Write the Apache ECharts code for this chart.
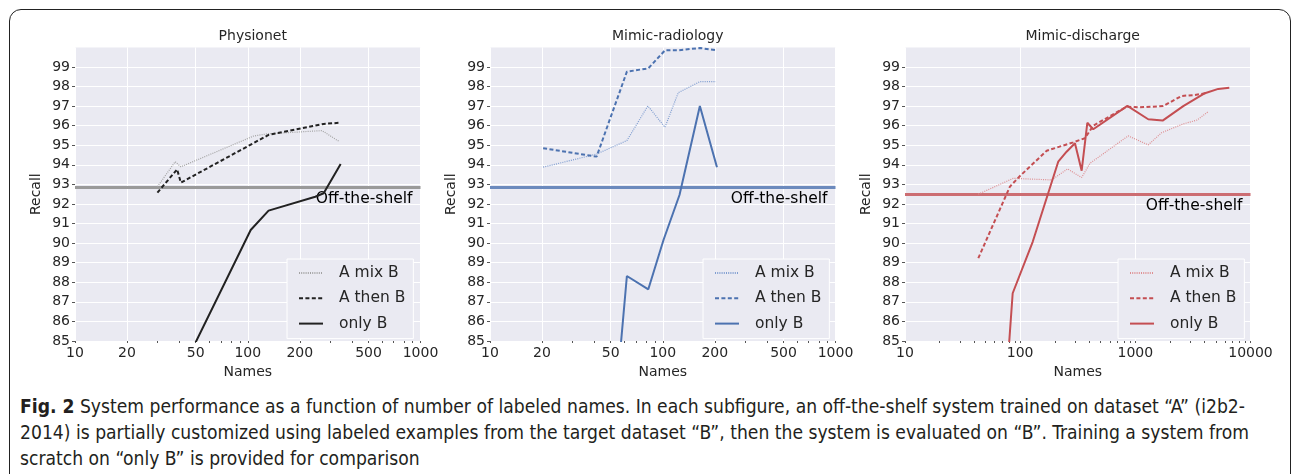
<!DOCTYPE html>
<html>
<head>
<meta charset="utf-8">
<script src="https://cdn.jsdelivr.net/npm/echarts@6/dist/echarts.min.js"></script>
<style>
  html, body { margin: 0; padding: 0; background: #fff; }
  body { width: 1292px; height: 474px; position: relative; overflow: hidden; }
  #frame {
    position: absolute; left: 9px; top: 9px; width: 1282px; height: 520px;
    border: 1.5px solid #222; border-radius: 12px; box-sizing: border-box;
  }
  #chart { position: absolute; left: 0; top: 0; width: 1292px; height: 390px; }
  #caption {
    position: absolute; left: 20px; top: 393px;
    font-family: "Liberation Sans Narrow", "DejaVu Sans", sans-serif; font-stretch: condensed;
    font-size: 19px; line-height: 26px; color: #231f20;
  }
  .cap-line { display: inline-block; white-space: nowrap; transform-origin: 0 50%; }
</style>
</head>
<body>
<div id="frame"></div>
<div id="chart"></div>
<div id="caption">
  <span class="cap-line"><b>Fig. 2</b> System performance as a function of number of labeled names. In each subfigure, an off-the-shelf system trained on dataset “A” (i2b2-</span><br>
  <span class="cap-line">2014) is partially customized using labeled examples from the target dataset “B”, then the system is evaluated on “B”. Training a system from</span><br>
  <span class="cap-line">scratch on “only B” is provided for comparison</span>
</div>
<script>
// ---- data (x = number of labeled names, y = recall) ----
const panelTitles = ["Physionet", "Mimic-radiology", "Mimic-discharge"];
const seriesNames = ["A mix B", "A then B", "only B"];
const xTicksSmall = [10, 20, 50, 100, 200, 500, 1000];
const xTicksLarge = [10, 100, 1000, 10000];
const yTicks = [85, 86, 87, 88, 89, 90, 91, 92, 93, 94, 95, 96, 97, 98, 99];
const offTheShelf = [92.88, 92.88, 92.5];

const physMixX = [30, 38, 41, 108, 129, 269, 340];
const physMixY = [92.88, 94.16, 93.9, 95.47, 95.58, 95.75, 95.18];
const physThenX = [30, 39, 41, 132, 275, 340];
const physThenY = [92.58, 93.77, 93.09, 95.53, 96.09, 96.15];
const physOnlyX = [40, 104, 132, 246, 275, 345];
const physOnlyY = [83.2, 90.67, 91.66, 92.37, 92.55, 94.04];

const radMixX = [20.3, 41.4, 62, 82, 103, 123, 164, 203];
const radMixY = [93.88, 94.55, 95.24, 97.01, 95.92, 97.69, 98.25, 98.25];
const radThenX = [20.3, 41.4, 62, 82.5, 103, 123, 164, 205];
const radThenY = [94.85, 94.42, 98.76, 98.93, 99.85, 99.85, 99.97, 99.85];
const radOnlyX = [41.4, 62, 82.5, 101, 125, 164, 206];
const radOnlyY = [70.8, 88.32, 87.64, 90.16, 92.46, 97.01, 93.88];

const disMixX = [43.3, 87, 187, 258, 342, 404, 867, 1294, 1690, 2606, 3440, 4296];
const disMixY = [92.5, 93.31, 93.23, 93.79, 93.35, 94.08, 95.48, 95.02, 95.64, 96.09, 96.29, 96.72];
const disThenX = [43.3, 81.5, 99.6, 170, 289, 365, 431, 840, 1096, 1746, 2522, 3290, 4100];
const disThenY = [89.23, 92.89, 93.43, 94.72, 95.15, 95.36, 96.0, 96.97, 96.94, 97.0, 97.52, 97.57, 97.66];
const disOnlyX = [43.3, 86.1, 128.5, 214, 253, 299, 342, 383, 431, 853, 1294, 1726, 2606, 4018, 5248, 6546];
const disOnlyY = [62.8, 87.44, 90.07, 94.16, 94.67, 95.1, 93.7, 96.15, 95.82, 97.01, 96.33, 96.26, 97.0, 97.66, 97.88, 97.94];

// ---- layout / style ----
const FONT = "DejaVu Sans";
const TXT = "#262626";
const gridLefts = [75, 490, 905];
const gridW = 345.5;
const gridTop = 47.4;
const gridH = 293.6;
const legendLefts = [287, 703, 1118];

const panels = [
  { ticks: xTicksSmall, max: 1000, colors: ["#a3a3a3", "#222222", "#222222"], refColor: "#9a9a9a",
    data: [[physMixX, physMixY], [physThenX, physThenY], [physOnlyX, physOnlyY]] },
  { ticks: xTicksSmall, max: 1000, colors: ["#7f9dd0", "#4c72b0", "#4c72b0"], refColor: "#6c8abd",
    data: [[radMixX, radMixY], [radThenX, radThenY], [radOnlyX, radOnlyY]] },
  { ticks: xTicksLarge, max: 10000, colors: ["#de8f92", "#c44e52", "#c44e52"], refColor: "#cc6d72",
    data: [[disMixX, disMixY], [disThenX, disThenY], [disOnlyX, disOnlyY]] }
];

function minorTicks(max) {
  const out = [];
  for (let d = 10; d < max; d *= 10) {
    for (let k = 2; k <= 9; k++) out.push(d * k);
  }
  return out;
}

const lg = (v) => Math.log10(v);
const lineTypes = [[1, 1.2], [4, 2.4], "solid"];
const lineWidths = [1.2, 2, 2];

const grid = [], xAxis = [], yAxis = [], series = [], title = [], legend = [];

panels.forEach((p, i) => {
  grid.push({
    left: gridLefts[i], top: gridTop, width: gridW, height: gridH,
    show: true, backgroundColor: "#eaeaf2", borderWidth: 0
  });
  title.push({
    text: panelTitles[i], left: gridLefts[i] + gridW / 2, top: 24, textAlign: "center",
    textStyle: { fontFamily: FONT, fontSize: 14, fontWeight: "normal", color: TXT }
  });
  // main x axis (log scale drawn through log10 values)
  xAxis.push({
    type: "value", gridIndex: i, min: 1, max: lg(p.max), position: "bottom",
    name: "Names", nameLocation: "middle", nameGap: 23,
    nameTextStyle: { fontFamily: FONT, fontSize: 14, color: TXT },
    axisLine: { show: false },
    axisTick: { show: true, length: 2, lineStyle: { color: "#555" }, customValues: p.ticks.map(lg) },
    axisLabel: {
      customValues: p.ticks.map(lg), margin: 5,
      fontFamily: FONT, fontSize: 14, color: TXT,
      formatter: (v) => String(Math.round(Math.pow(10, v)))
    },
    splitLine: { show: true, lineStyle: { color: "#ffffff", width: 1 } }
  });
  // minor ticks
  xAxis.push({
    type: "value", gridIndex: i, min: 1, max: lg(p.max), position: "bottom",
    axisLine: { show: false },
    axisTick: { show: true, length: 2, lineStyle: { color: "#555" }, customValues: minorTicks(p.max).map(lg) },
    axisLabel: { show: false },
    splitLine: { show: false }
  });
  yAxis.push({
    type: "value", gridIndex: i, min: 85, max: 100, interval: 1,
    name: "Recall", nameLocation: "middle", nameGap: 32,
    nameTextStyle: { fontFamily: FONT, fontSize: 14, color: TXT },
    axisLine: { show: false },
    axisTick: { show: true, length: 3, lineStyle: { color: "#555" }, customValues: yTicks },
    axisLabel: { customValues: yTicks, fontFamily: FONT, fontSize: 14, color: TXT, margin: 5 },
    splitLine: { show: true, lineStyle: { color: "#ffffff", width: 1 } }
  });

  const names = [];
  p.data.forEach((d, k) => {
    const name = panelTitles[i] + "|" + seriesNames[k];
    names.push(name);
    const s = {
      type: "line", name: name, xAxisIndex: i * 2, yAxisIndex: i,
      symbol: "none", clip: true, z: 3 + k,
      lineStyle: { color: p.colors[k], width: lineWidths[k], type: lineTypes[k] },
      itemStyle: { color: p.colors[k] },
      data: d[0].map((x, j) => [lg(x), d[1][j]])
    };
    if (k === 0) {
      s.markLine = {
        silent: true, symbol: "none", z: 1,
        lineStyle: { color: p.refColor, width: 3, type: "solid" },
        label: {
          show: true, position: "insideEndBottom", formatter: "Off-the-shelf",
          fontFamily: FONT, fontSize: 15.5, color: "#000", distance: [8, 4]
        },
        data: [{ yAxis: offTheShelf[i] }]
      };
    }
    series.push(s);
  });

  legend.push({
    data: names, left: legendLefts[i], top: 259, orient: "vertical",
    formatter: (n) => n.split("|")[1],
    backgroundColor: "#eaeaf2", borderColor: "#ffffff", borderWidth: 1, borderRadius: 0,
    padding: [6, 8, 7, 11], itemWidth: 24, itemHeight: 14, itemGap: 9.3,
    selectedMode: false,
    itemStyle: { opacity: 0 },
    textStyle: { fontFamily: FONT, fontSize: 15.5, color: TXT, padding: [0, 0, 0, 11] }
  });
});

const chart = echarts.init(document.getElementById("chart"), null, { renderer: "canvas" });
chart.setOption({
  animation: false,
  title, grid, xAxis, yAxis, series, legend
});

// caption squeezed so the first line spans the printed width; same factor for every line
const capLines = document.querySelectorAll(".cap-line");
const capScale = 1225 / capLines[0].getBoundingClientRect().width;
capLines.forEach((el) => {
  el.style.transform = "scaleX(" + capScale + ")";
});
</script>
</body>
</html>
